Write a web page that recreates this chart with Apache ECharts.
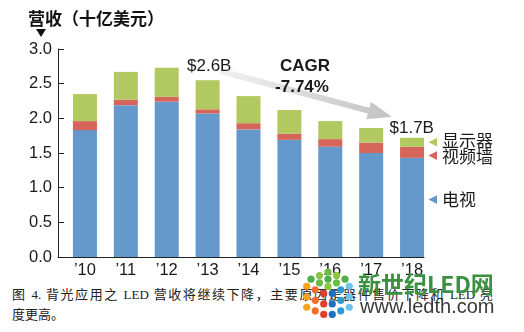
<!DOCTYPE html>
<html>
<head>
<meta charset="utf-8">
<script src="https://cdn.jsdelivr.net/npm/echarts@6/dist/echarts.min.js"></script>
<style>
html,body{margin:0;padding:0;background:#fff;}
#wrap{position:relative;width:524px;height:332px;overflow:hidden;background:#fff;}
#cap{position:absolute;left:12px;top:285px;width:481px;font-size:13px;line-height:20px;font-family:"Liberation Serif","Noto Sans CJK SC",serif;color:#222;z-index:0;}
#cap .l1{text-align:justify;text-align-last:justify;}
#chart{position:absolute;left:0;top:0;width:524px;height:332px;z-index:1;}
</style>
</head>
<body>
<div id="wrap">
  <div id="cap"><div class="l1">图 4. 背光应用之 LED 营收将继续下降，主要原因是器件售价下降和 LED 亮</div><div>度更高。</div></div>
  <div id="chart"></div>
</div>
<script>
// ---- data ----
const categories = ["’10", "’11", "’12", "’13", "’14", "’15", "’16", "’17", "’18"];
const tvValues = [1.83, 2.19, 2.24, 2.07, 1.84, 1.69, 1.59, 1.50, 1.43];
const videoWallValues = [0.13, 0.08, 0.07, 0.06, 0.09, 0.09, 0.11, 0.15, 0.16];
const displayValues = [0.39, 0.40, 0.42, 0.42, 0.39, 0.34, 0.26, 0.21, 0.13];
const seriesNames = ["电视", "视频墙", "显示器"];
const yTickLabels = ["0.0", "0.5", "1.0", "1.5", "2.0", "2.5", "3.0"];
const startLabel = "$2.6B";
const endLabel = "$1.7B";
const cagrLabel = "CAGR";
const cagrValue = "-7.74%";
const yAxisTitle = "营收（十亿美元）";

const colors = ["#6598CB", "#D5655A", "#B2C861"];
const sans = "'Liberation Sans', Arial, sans-serif";
const cjk = "'Noto Sans CJK SC', 'Liberation Sans', sans-serif";

const chart = echarts.init(document.getElementById('chart'), null, {renderer: 'canvas'});

// annotation arrow geometry (decorative)
const S = [220, 71], T = [391.7, 116.7];
const dx = T[0] - S[0], dy = T[1] - S[1];
const L = Math.sqrt(dx * dx + dy * dy);
const ux = dx / L, uy = dy / L, nx = -uy, ny = ux;
const headLen = 24, headHalf = 9, shaftHalf = 3;
const B = [T[0] - headLen * ux, T[1] - headLen * uy];
const arrowPts = [
  [S[0] + shaftHalf * nx, S[1] + shaftHalf * ny],
  [B[0] + shaftHalf * nx, B[1] + shaftHalf * ny],
  [B[0] + headHalf * nx, B[1] + headHalf * ny],
  T,
  [B[0] - headHalf * nx, B[1] - headHalf * ny],
  [B[0] - shaftHalf * nx, B[1] - shaftHalf * ny],
  [S[0] - shaftHalf * nx, S[1] - shaftHalf * ny]
];

// decorative watermark logo dots
const logoDots = [];
(function () {
  const F = [328, 290], u = [-8.5, -3.6], v = [8.5, -3.6], w = [0, 10.5];
  const greens = ['#8cc63f', '#6cbb47', '#4fae4a'];
  const lefts = ['#f7a21b', '#f26c2a', '#e23d2b'];
  const rights = ['#1f6fbf', '#2b9ad8', '#6cc6ec'];
  for (let i = 0; i < 3; i++) for (let j = 0; j < 3; j++) {
    logoDots.push({type: 'circle', shape: {cx: F[0] + (i + .5) * u[0] + (j + .5) * v[0], cy: F[1] + (i + .5) * u[1] + (j + .5) * v[1], r: 3.6}, style: {fill: greens[(i + j) % 3]}, z: 20});
  }
  for (let i = 0; i < 3; i++) for (let k = 0; k < 3; k++) {
    logoDots.push({type: 'circle', shape: {cx: F[0] + (i + .5) * u[0] + (k + .5) * w[0], cy: F[1] + (i + .5) * u[1] + (k + .5) * w[1], r: 3.6}, style: {fill: lefts[2 - i]}, z: 20});
    logoDots.push({type: 'circle', shape: {cx: F[0] + (i + .5) * v[0] + (k + .5) * w[0], cy: F[1] + (i + .5) * v[1] + (k + .5) * w[1], r: 3.6}, style: {fill: rights[i]}, z: 20});
  }
})();

function legendTri(cy, color) {
  return {type: 'polygon', shape: {points: [[437, cy - 4.3], [437, cy + 4.3], [428.5, cy]]}, style: {fill: color}, z: 10};
}
function txt(x, y, text, font, fill, align) {
  return {type: 'text', x: x, y: y, style: {text: text, font: font, fill: fill, align: align || 'left', verticalAlign: 'middle'}, z: 15};
}

const option = {
  animation: false,
  grid: [
    {left: 64.5, right: 91.5, top: 49, bottom: 75, outerBoundsMode: 'none'},
    {left: 58, right: 100, top: 49, bottom: 75, outerBoundsMode: 'none'}
  ],
  xAxis: [
    {
      type: 'category', data: categories, gridIndex: 0,
      axisLine: {show: false},
      axisTick: {show: false},
      splitLine: {show: false},
      axisLabel: {color: '#1a1a1a', fontSize: 16.5, fontFamily: sans, margin: 5}
    },
    {
      type: 'value', gridIndex: 1, min: 0, max: 1,
      axisLine: {show: true, lineStyle: {color: '#222', width: 1}},
      axisTick: {show: false}, axisLabel: {show: false}, splitLine: {show: false}
    }
  ],
  yAxis: [
    {
      type: 'value', gridIndex: 0, min: 0, max: 3, interval: 0.5, offset: 6.5,
      axisLine: {show: true, lineStyle: {color: '#222', width: 1}},
      axisTick: {show: true, inside: true, length: 6, lineStyle: {color: '#222'}},
      splitLine: {show: false},
      axisLabel: {
        formatter: v => yTickLabels[Math.round(v * 2)],
        color: '#1a1a1a', fontSize: 16.5, fontFamily: sans, margin: 6
      }
    },
    {type: 'value', gridIndex: 1, show: false, min: 0, max: 3}
  ],
  series: [
    {name: seriesNames[0], type: 'bar', stack: 'total', barWidth: 24, data: tvValues, itemStyle: {color: colors[0]}},
    {name: seriesNames[1], type: 'bar', stack: 'total', barWidth: 24, data: videoWallValues, itemStyle: {color: colors[1]}},
    {name: seriesNames[2], type: 'bar', stack: 'total', barWidth: 24, data: displayValues, itemStyle: {color: colors[2]}}
  ],
  graphic: [
    txt(28, 19, yAxisTitle, "bold 17px " + cjk, '#111'),
    {type: 'polygon', shape: {points: [[36, 29], [46, 29], [41, 37]]}, style: {fill: '#111'}, z: 10},
    {type: 'polygon', shape: {points: arrowPts}, style: {fill: new echarts.graphic.LinearGradient(S[0], S[1], T[0], T[1], [{offset: 0, color: '#f2f2f2'}, {offset: 1, color: '#c2c2c2'}], true)}, z: 5},
    txt(187, 66.5, startLabel, "17px " + sans, '#1a1a1a'),
    txt(305, 66.5, cagrLabel, "bold 17px " + sans, '#1a1a1a', 'center'),
    txt(302, 87, cagrValue, "bold 17px " + sans, '#1a1a1a', 'center'),
    txt(389.5, 128, endLabel, "17px " + sans, '#1a1a1a'),
    legendTri(142.3, colors[2]),
    legendTri(155.6, colors[1]),
    legendTri(199.6, colors[0]),
    txt(442, 140.5, seriesNames[2], "17px " + cjk, '#1a1a1a'),
    txt(442, 157, seriesNames[1], "17px " + cjk, '#1a1a1a'),
    txt(442, 200, seriesNames[0], "17px " + cjk, '#1a1a1a'),
    ...logoDots,
    txt(358, 284.5, "新世纪LED网", "bold 23px " + cjk, '#3a9140'),
    txt(360, 307, "www.ledth.com", "20px " + sans, '#3a3a3a')
  ]
};
chart.setOption(option);
</script>
</body>
</html>
